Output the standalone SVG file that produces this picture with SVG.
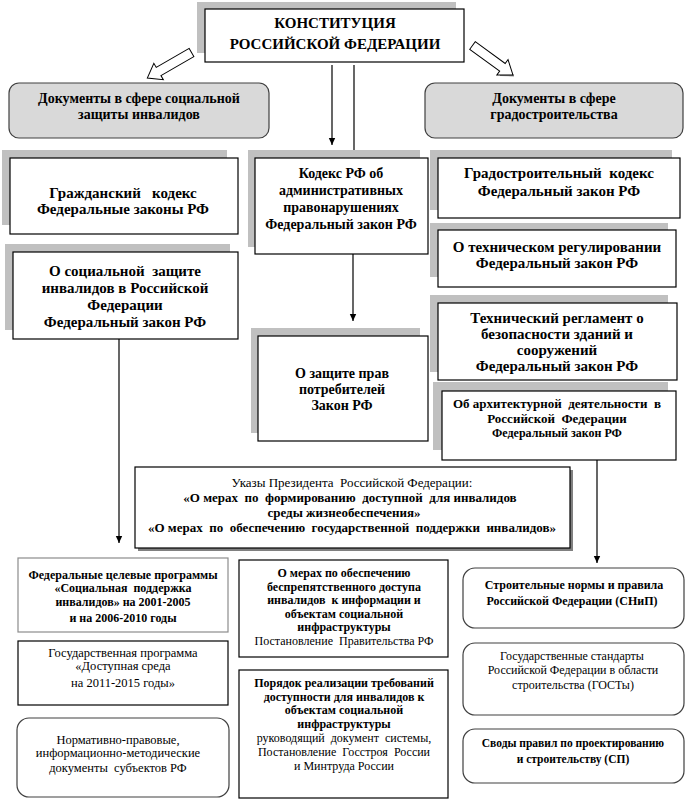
<svg xmlns="http://www.w3.org/2000/svg" width="686" height="800" viewBox="0 0 686 800" xml:space="preserve">
<style>
text{font-family:"Liberation Serif","Times New Roman",serif;fill:#000;text-anchor:middle;white-space:pre}
.b{font-weight:bold}
.shadow{fill:#c0c0c0}
.box{fill:#fff;stroke:#000;stroke-width:1.2}
.gbox{fill:#fff;stroke:#8c8c8c;stroke-width:1.2}
.grey{fill:#d9d9d9;stroke:#404040;stroke-width:1.2}
.rbox{fill:#fff;stroke:#404040;stroke-width:1.2}
.f15{font-size:15px}.f14{font-size:14px}.f13{font-size:13px}.f125{font-size:12.5px}.f12{font-size:12px}.f115{font-size:11.5px}
.ln{stroke:#000;stroke-width:1.2;fill:none}
.hollow{fill:#fff;stroke:#000;stroke-width:1}
</style>
<defs>
<marker id="ah" markerWidth="8" markerHeight="8" refX="7" refY="4" orient="auto" markerUnits="userSpaceOnUse">
<path d="M0,0.8 L7,4 L0,7.2 Z" fill="#000"/>
</marker>
</defs>

<g id="connectors">
<polygon class="hollow" transform="translate(191.5,52.5) rotate(150)" points="0,-4.7 38,-4.7 38,-9.5 51,0 38,9.5 38,4.7 0,4.7"/>
<line x1="500" y1="75" x2="514" y2="75.5" stroke="#909090" stroke-width="2"/>
<polygon class="hollow" transform="translate(472.5,45.5) rotate(36)" points="0,-4.7 37,-4.7 37,-9.5 50,0 37,9.5 37,4.7 0,4.7"/>
<line class="ln" x1="332" y1="65" x2="332" y2="145" marker-end="url(#ah)"/>
<line class="ln" x1="354" y1="65" x2="354" y2="158"/>
<line class="ln" x1="353" y1="254" x2="353" y2="321" marker-end="url(#ah)"/>
<line class="ln" x1="119" y1="339" x2="119" y2="543" marker-end="url(#ah)"/>
<line class="ln" x1="597" y1="460" x2="597" y2="563" marker-end="url(#ah)"/>
</g>

<g id="n-constitution">
<rect class="shadow" x="197" y="2" width="259" height="51"/>
<rect class="box" x="205" y="9" width="259" height="53"/>
<text class="b f15" x="335" y="28">КОНСТИТУЦИЯ</text>
<text class="b f15" x="335" y="49">РОССИЙСКОЙ ФЕДЕРАЦИИ</text>
</g>

<g id="n-social">
<rect class="grey" x="9" y="83" width="260" height="55" rx="10"/>
<text class="b f14" x="139" y="103">Документы в сфере социальной</text>
<text class="b f14" x="139" y="119">защиты инвалидов</text>
</g>

<g id="n-urban">
<rect class="grey" x="425" y="83" width="258" height="55" rx="10"/>
<text class="b f14" x="554" y="103">Документы в сфере</text>
<text class="b f14" x="554" y="119">градостроительства</text>
</g>

<g id="n-civil">
<rect class="shadow" x="2" y="150" width="225" height="75"/>
<rect class="box" x="10" y="158" width="228" height="76"/>
<text class="b f15" x="123" y="198">Гражданский   кодекс</text>
<text class="b f15" x="123" y="214">Федеральные законы РФ</text>
</g>

<g id="n-socprot">
<rect class="shadow" x="5" y="244" width="225" height="86"/>
<rect class="box" x="13" y="252" width="225" height="87"/>
<text class="b f15" x="125" y="276">О социальной  защите</text>
<text class="b f15" x="125" y="293">инвалидов в Российской</text>
<text class="b f15" x="125" y="310">Федерации</text>
<text class="b f15" x="125" y="327">Федеральный закон РФ</text>
</g>

<g id="n-koap">
<rect class="shadow" x="248" y="150" width="172" height="97"/>
<rect class="box" x="255" y="158" width="173" height="96"/>
<text class="b f14" x="341" y="178">Кодекс РФ об</text>
<text class="b f14" x="341" y="195">административных</text>
<text class="b f14" x="341" y="212">правонарушениях</text>
<text class="b f14" x="341" y="229">Федеральный закон РФ</text>
</g>

<g id="n-consumer">
<rect class="shadow" x="251" y="328" width="169" height="105"/>
<rect class="box" x="258" y="336" width="170" height="105"/>
<text class="b f14" x="342" y="378">О защите прав</text>
<text class="b f14" x="342" y="394">потребителей</text>
<text class="b f14" x="342" y="410">Закон РФ</text>
</g>

<g id="n-urbcode">
<rect class="shadow" x="430" y="150" width="242" height="60"/>
<rect class="box" x="438" y="158" width="242" height="60"/>
<text class="b f15" x="559" y="178">Градостроительный  кодекс</text>
<text class="b f15" x="559" y="196">Федеральный закон РФ</text>
</g>

<g id="n-techreg">
<rect class="shadow" x="430" y="223" width="238" height="54"/>
<rect class="box" x="438" y="230" width="238" height="57"/>
<text class="b f15" x="557" y="252">О техническом регулировании</text>
<text class="b f15" x="557" y="268">Федеральный закон РФ</text>
</g>

<g id="n-safety">
<rect class="shadow" x="430" y="295" width="238" height="77"/>
<rect class="box" x="438" y="303" width="239" height="77"/>
<text class="b f15" x="557" y="323">Технический регламент о</text>
<text class="b f15" x="557" y="339">безопасности зданий и</text>
<text class="b f15" x="557" y="355">сооружений</text>
<text class="b f15" x="557" y="371">Федеральный закон РФ</text>
</g>

<g id="n-arch">
<rect class="shadow" x="433" y="382" width="235" height="68"/>
<rect class="box" x="442" y="391" width="234" height="69"/>
<text class="b f13" x="557" y="408">Об архитектурной  деятельности  в</text>
<text class="b f13" x="557" y="423">Российской  Федерации</text>
<text class="b f12" x="557" y="437">Федеральный закон РФ</text>
</g>

<g id="n-decrees">
<rect x="138" y="470" width="435" height="81" fill="#808080"/>
<rect class="box" x="135" y="467" width="435" height="81"/>
<text class="f13" x="352" y="487">Указы Президента  Российской Федерации:</text>
<text class="b f13" x="350" y="502">«О мерах  по  формированию  доступной  для инвалидов</text>
<text class="b f13" x="344" y="517">среды жизнеобеспечения»</text>
<text class="b f13" x="352" y="532">«О мерах  по  обеспечению  государственной  поддержки  инвалидов»</text>
</g>

<g id="n-fcp">
<rect class="gbox" x="18" y="558" width="210" height="74"/>
<text class="b f12" x="123" y="579">Федеральные целевые программы</text>
<text class="b f12" x="123" y="592">«Социальная  поддержка</text>
<text class="b f12" x="123" y="606">инвалидов» на 2001-2005</text>
<text class="b f12" x="123" y="622">и на 2006-2010 годы</text>
</g>

<g id="n-gp">
<rect class="box" x="18" y="641" width="210" height="64"/>
<text class="f125" x="123" y="657">Государственная программа</text>
<text class="f125" x="123" y="670">«Доступная среда</text>
<text class="f125" x="123" y="687">на 2011-2015 годы»</text>
</g>

<g id="n-regional">
<rect class="rbox" x="17" y="718" width="212" height="79" rx="12"/>
<text class="f125" x="118" y="744">Нормативно-правовые,</text>
<text class="f125" x="118" y="757">информационно-методические</text>
<text class="f125" x="118" y="772">документы  субъектов РФ</text>
</g>

<g id="n-gov">
<rect class="box" x="239" y="560" width="209" height="97"/>
<text class="b f12" x="344" y="577">О мерах по обеспечению</text>
<text class="b f12" x="344" y="591">беспрепятственного доступа</text>
<text class="b f12" x="344" y="604">инвалидов  к информации и</text>
<text class="b f12" x="344" y="618">объектам социальной</text>
<text class="b f12" x="344" y="631">инфраструктуры</text>
<text class="f12" x="344" y="645">Постановление  Правительства РФ</text>
</g>

<g id="n-order">
<rect class="box" x="239" y="670" width="209" height="128"/>
<text class="b f12" x="344" y="687">Порядок реализации требований</text>
<text class="b f12" x="344" y="701">доступности для инвалидов к</text>
<text class="b f12" x="344" y="714">объектам социальной</text>
<text class="b f12" x="344" y="728">инфраструктуры</text>
<text class="f12" x="344" y="742">руководящий  документ  системы,</text>
<text class="f12" x="344" y="756">Постановление  Госстроя  России</text>
<text class="f12" x="344" y="770">и Минтруда России</text>
</g>

<g id="n-snip">
<rect class="rbox" x="463" y="568" width="221" height="60" rx="12"/>
<text class="b f12" x="574" y="589">Строительные нормы и правила</text>
<text class="b f12" x="572" y="605">Российской Федерации (СНиП)</text>
</g>

<g id="n-gost">
<rect class="rbox" x="463" y="643" width="221" height="72" rx="12"/>
<text class="f12" x="572" y="660">Государственные стандарты</text>
<text class="f12" x="573" y="674">Российской Федерации в области</text>
<text class="f12" x="573" y="689">строительства (ГОСТы)</text>
</g>

<g id="n-sp">
<rect class="rbox" x="463" y="729" width="221" height="54" rx="12"/>
<text class="b f115" x="573" y="747">Своды правил по проектированию</text>
<text class="b f115" x="573" y="763">и строительству (СП)</text>
</g>
</svg>
